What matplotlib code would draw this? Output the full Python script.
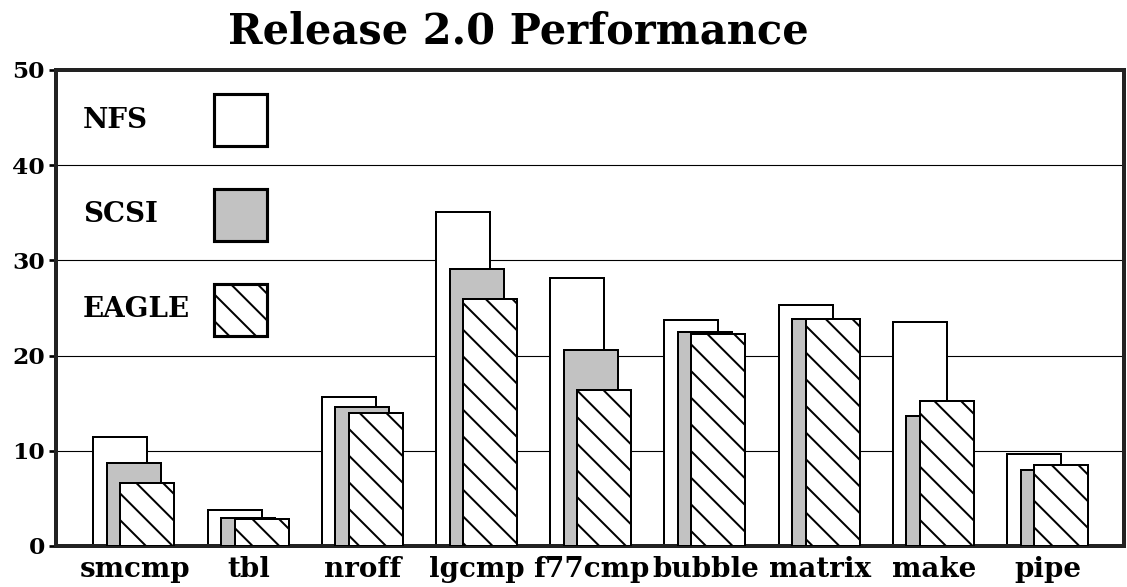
import numpy as np
import matplotlib
matplotlib.use("Agg")
import matplotlib.pyplot as plt
from matplotlib.patches import Rectangle

# values
benchmarks = ["smcmp", "tbl", "nroff", "lgcmp", "f77cmp", "bubble", "matrix", "make", "pipe"]
nfs = [11.5, 3.8, 15.6, 35.1, 28.2, 23.7, 25.3, 23.5, 9.7]
scsi = [8.7, 2.9, 14.6, 29.1, 20.6, 22.5, 23.8, 13.7, 8.0]
eagle = [6.6, 2.8, 14.0, 25.9, 16.4, 22.3, 23.8, 15.2, 8.5]
series_names = ["NFS", "SCSI", "EAGLE"]

plt.rcParams["font.family"] = "DejaVu Serif"
plt.rcParams["font.weight"] = "bold"
plt.rcParams["hatch.linewidth"] = 0.9
plt.rcParams["hatch.color"] = "black"

# dpi 160 so the hatch spacing comes out like the original
fig = plt.figure(figsize=(1127 / 160, 587 / 160), dpi=160)
ax = fig.add_axes([56 / 1127, 1 - 546 / 587, 1068 / 1127, 476 / 587])

styles = [
    dict(facecolor="white", hatch=None),
    dict(facecolor="#c2c2c2", hatch=None),
    dict(facecolor="white", hatch="\\\\"),
]

x = np.arange(len(benchmarks))
width = 0.473
step = 0.118
start = -0.355
for k, vals in enumerate([nfs, scsi, eagle]):
    ax.bar(x + start + k * step, vals, width=width, align="edge",
           facecolor=styles[k]["facecolor"], hatch=styles[k]["hatch"],
           edgecolor="black", linewidth=0.9, zorder=2 + k)

ax.set_xlim(-0.683, 8.669)
ax.set_ylim(0, 50)
ax.set_yticks(range(0, 51, 10))
ax.set_xticks(x + 0.005)
ax.set_xticklabels(benchmarks)
ax.tick_params(axis="x", length=0, pad=4.5, labelsize=12.5)
ax.tick_params(axis="y", length=3, width=1.2, pad=2, labelsize=10.5)
for lab in ax.get_xticklabels() + ax.get_yticklabels():
    lab.set_fontweight("bold")

for yv in range(10, 50, 10):
    ax.axhline(yv, color="black", linewidth=0.5, zorder=1)

for sp in ax.spines.values():
    sp.set_linewidth(1.8)
    sp.set_color("#222222")

# legend drawn inside the plot, label left and box right
for k, name in enumerate(series_names):
    yb = 0.840 - k * 0.199
    ax.add_patch(Rectangle((0.148, yb), 0.0496, 0.109, transform=ax.transAxes,
                           facecolor=styles[k]["facecolor"], hatch=styles[k]["hatch"],
                           edgecolor="black", linewidth=1.4, zorder=6))
    ax.text(0.025, yb + 0.0545, name, transform=ax.transAxes, ha="left", va="center",
            fontsize=12.5, fontweight="bold")

fig.text(518 / 1127, 1 - 31 / 587, "Release 2.0 Performance", ha="center", va="center",
         fontsize=18.7, fontweight="bold")

fig.savefig("out.png", dpi=160)
